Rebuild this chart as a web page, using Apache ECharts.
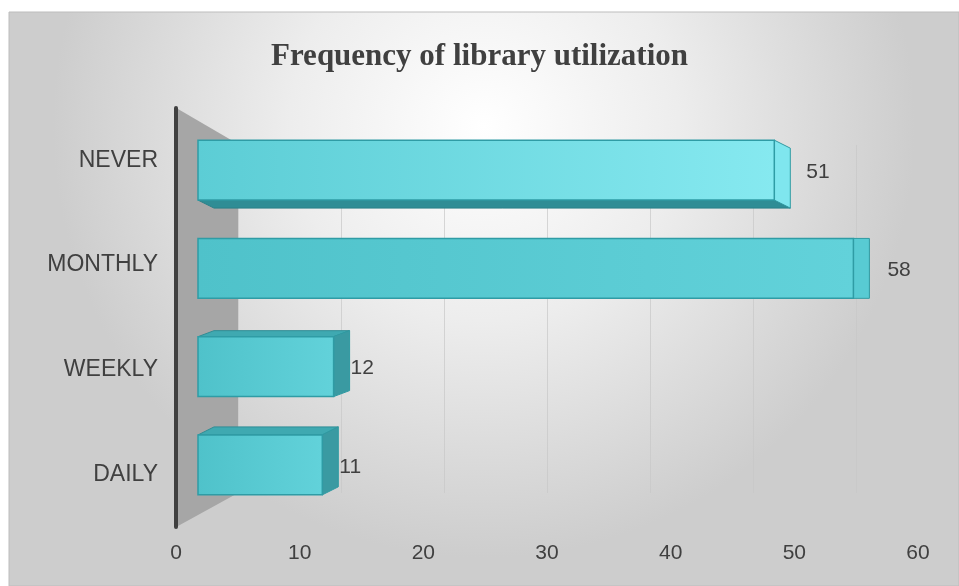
<!DOCTYPE html>
<html>
<head>
<meta charset="utf-8">
<script src="https://cdn.jsdelivr.net/npm/echarts@6/dist/echarts.min.js"></script>
<style>
  html, body { margin: 0; padding: 0; background: #fff; }
  #main { width: 959px; height: 586px; }
</style>
</head>
<body>
<div id="main"></div>
<script>
// data
var categories = ['DAILY', 'WEEKLY', 'MONTHLY', 'NEVER'];
var counts = [11, 12, 58, 51];
var xTicks = [0, 10, 20, 30, 40, 50, 60];

var myChart = echarts.init(document.getElementById('main'));

// fake 3d depth per bar (front -> back offset)
var depthY = [-8, -6, 0, 8];
var depthX = 16;

function renderBox(params, api) {
  var idx = api.value(0);
  var v = api.value(1);
  var p0 = api.coord([0, idx]);
  var p1 = api.coord([v, idx]);
  var band = api.size([0, 1])[1];
  var h = band * 0.61;
  var x0 = p0[0], x1 = p1[0];
  var y0 = p0[1] - h / 2, y1 = p0[1] + h / 2;
  var dy = depthY[idx];
  var dx = depthX;
  var children = [];
  var dark = '#2f8d95';
  // top / bottom face
  if (dy > 0) {
    children.push({ type: 'polygon', shape: { points: [[x0, y1], [x1, y1], [x1 + dx, y1 + dy], [x0 + dx, y1 + dy]] },
      style: { fill: dark, stroke: '#2a8088', lineWidth: 1 } });
  } else if (dy < 0) {
    children.push({ type: 'polygon', shape: { points: [[x0, y0], [x1, y0], [x1 + dx, y0 + dy], [x0 + dx, y0 + dy]] },
      style: { fill: '#3fa9b1', stroke: '#2f8d95', lineWidth: 1 } });
  }
  // side face
  children.push({ type: 'polygon', shape: { points: [[x1, y0], [x1 + dx, y0 + dy], [x1 + dx, y1 + dy], [x1, y1]] },
    style: { fill: dy > 0 ? '#7fe6ee' : (dy === 0 ? '#58cbd3' : '#3a9aa2'), stroke: '#2f9aa2', lineWidth: 1 } });
  // front face
  var light = idx === 3;
  children.push({ type: 'rect', shape: { x: x0, y: y0, width: x1 - x0, height: y1 - y0 },
    style: {
      fill: new echarts.graphic.LinearGradient(0, 0, 1, 0, [
        { offset: 0, color: light ? '#5ccdd5' : '#4fc2ca' },
        { offset: 1, color: light ? '#86e9f0' : '#62d2da' }
      ]),
      stroke: '#2f9ca5', lineWidth: 1.5
    } });
  // value label
  var gap = dy > 0 ? 16 : (dy === 0 ? 18 : 1);
  children.push({ type: 'text', x: x1 + dx + gap, y: p0[1] + 2,
    style: { text: String(v), fill: '#404040', font: '21px "Liberation Sans", Arial, sans-serif',
      verticalAlign: 'middle', align: 'left' } });
  return { type: 'group', children: children };
}

var option = {
  animation: false,
  graphic: [
    { type: 'rect', z: -10, silent: true,
      shape: { x: 9, y: 12, width: 950, height: 574 },
      style: {
        fill: new echarts.graphic.RadialGradient(0.5, 0.2, 0.75, [
          { offset: 0, color: '#ffffff' },
          { offset: 0.45, color: '#ededed' },
          { offset: 1, color: '#cdcdcd' }
        ]),
        stroke: '#bdbdbd', lineWidth: 1
      } },
    { type: 'polygon', z: -5, silent: true,
      shape: { points: [[178, 109], [238, 144], [238, 493], [178, 526]] },
      style: { fill: '#a6a6a6' } }
  ],
  title: {
    text: 'Frequency of library utilization',
    left: 'center',
    top: 36,
    textStyle: { fontFamily: '"Liberation Serif", "Times New Roman", serif', fontWeight: 'bold', fontSize: 31, color: '#404040' }
  },
  grid: [
    { left: 176, right: 41, top: 108, bottom: 59 },
    { left: 198, right: 83, top: 121, bottom: 72 },
    { left: 238, right: 103, top: 145, bottom: 93 }
  ],
  xAxis: [
    { type: 'value', gridIndex: 0, min: 0, max: 60, interval: 10,
      axisLine: { show: false }, axisTick: { show: false }, splitLine: { show: false },
      axisLabel: { color: '#404040', fontSize: 21, margin: 16, fontFamily: '"Liberation Sans", Arial, sans-serif',
        formatter: function (v) { return xTicks.indexOf(v) >= 0 ? v : ''; } } },
    { type: 'value', gridIndex: 1, min: 0, max: 60, interval: 10, show: false },
    { type: 'value', gridIndex: 2, min: 0, max: 60, interval: 10,
      axisLine: { show: false }, axisTick: { show: false }, axisLabel: { show: false },
      splitLine: { show: true, lineStyle: { color: 'rgba(200,200,200,0.7)', width: 1 } } }
  ],
  yAxis: [
    { type: 'category', gridIndex: 0, data: categories,
      axisLine: { show: true, lineStyle: { color: '#404040', width: 4 } },
      axisTick: { show: false },
      axisLabel: { color: '#404040', fontSize: 23, margin: 18, fontFamily: '"Liberation Sans", Arial, sans-serif' } },
    { type: 'category', gridIndex: 1, data: categories, show: false },
    { type: 'value', gridIndex: 2, show: false, splitLine: { show: false } }
  ],
  series: [
    {
      type: 'custom',
      xAxisIndex: 1,
      yAxisIndex: 1,
      renderItem: renderBox,
      encode: { x: 1, y: 0 },
      data: counts.map(function (c, i) { return [i, c]; })
    }
  ]
};

myChart.setOption(option);
window.addEventListener('resize', function () {
  myChart.resize();
});
</script>
</body>
</html>
